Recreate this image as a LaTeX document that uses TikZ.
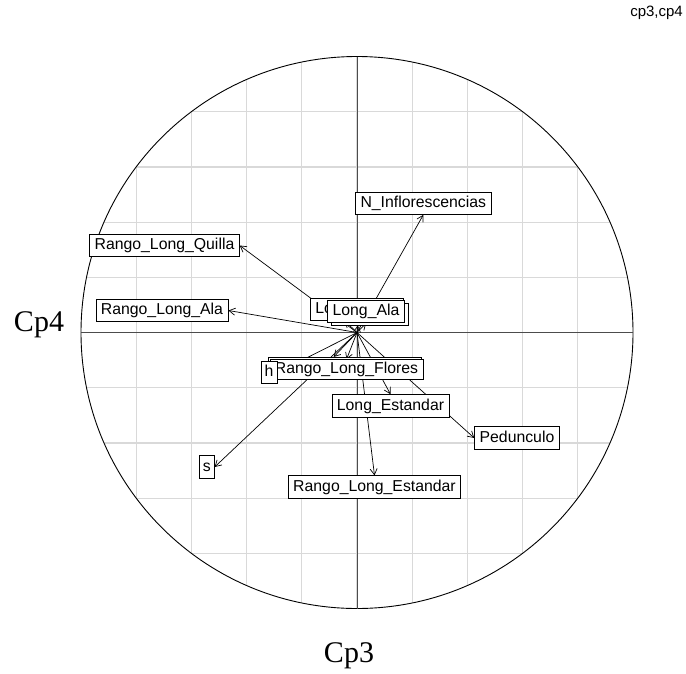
\documentclass[tikz,border=0pt]{standalone}
\usepackage{fontspec}
\setmainfont{Liberation Sans}
\newfontfamily\axisfont{Liberation Serif}
\usetikzlibrary{arrows.meta,calc}
\pgfdeclarelayer{gridlayer}
\pgfdeclarelayer{veclayer}
\pgfsetlayers{gridlayer,veclayer,main}
\begin{document}
\begin{tikzpicture}[x=1pt,y=-1pt,
  lbl/.style={draw=black, fill=white, line width=0.8pt, inner xsep=5pt, inner ysep=3.4pt,
    text height=12pt, text depth=3.5pt, font=\fontsize{15.8}{18}\selectfont},
  emptybox/.style={draw=black, fill=white, line width=0.8pt, inner sep=0pt},
  vec/.style={draw=black, line width=0.7pt, -{Straight Barb[length=6pt,width=7pt]}},
  gridline/.style={draw=black!15, line width=1.2pt},
  axisline/.style={draw=black!70, line width=0.9pt},
  axislabel/.style={font=\axisfont\fontsize{30}{34}\selectfont, inner sep=0pt}]
\useasboundingbox (0,0) rectangle (686,673);

% centre of the correlation circle
\coordinate (O) at (357,332.5);

% variable labels
\node[lbl] (rlq) at (164.5,245.5) {Rango\_Long\_Quilla};
\node[lbl] (rla) at (162,310.5) {Rango\_Long\_Ala};
\node[lbl] (ninf) at (423.3,203.3) {N\_Inflorescencias};
\node[lbl, anchor=west, text width=83pt, align=left] (lf) at (310,309.2) {Lo};
\node[emptybox, minimum width=77pt, minimum height=22pt] (tb) at (369.5,314) {};
\node[lbl] (lala) at (366,311.7) {Long\_Ala};
\node[emptybox, minimum width=153pt, minimum height=20pt] (rlfb) at (344.5,367.3) {};
\node[lbl, inner ysep=2.2pt] (rlf) at (346.5,369.7) {Rango\_Long\_Flores};
\node[lbl, inner xsep=3.6pt] (h) at (269,372.7) {h};
\node[lbl] (lest) at (390.5,405.8) {Long\_Estandar};
\node[lbl] (ped) at (517,438) {Pedunculo};
\node[lbl, inner xsep=3.6pt] (s) at (206.7,467) {s};
\node[lbl] (rle) at (374.5,487) {Rango\_Long\_Estandar};

% corner title and axis names
\node[font=\fontsize{15}{17}\selectfont, anchor=east, inner sep=0pt] (title) at (683,13) {cp3,cp4};
\node[axislabel, anchor=base] (cp4) at (39,331.5) {Cp4};
\node[axislabel, anchor=base] (cp3) at (349,662) {Cp3};

% grid, circle and axes
\begin{pgfonlayer}{gridlayer}
  \begin{scope}
    \clip (O) circle[radius=276pt];
    \foreach \k in {-4,...,4} {
      \draw[gridline] ({357+55.2*\k},50) -- ({357+55.2*\k},615);
      \draw[gridline] (75,{332.5+55.2*\k}) -- (640,{332.5+55.2*\k});
    }
  \end{scope}
  \draw[black, line width=0.9pt] (O) circle[radius=276pt];
  \draw[axisline] (81,332.5) -- (633,332.5);
  \draw[axisline] (357,56.5) -- (357,608.5);
\end{pgfonlayer}

% loading vectors
\begin{pgfonlayer}{veclayer}
  \draw[vec] (O) -- (rlq.east);
  \draw[vec] (O) -- (rla.east);
  \draw[vec] (O) -- (ninf.south);
  \draw[vec] (O) -- ($(lf.south west)!0.37!(lf.south east)$);
  \draw[vec] (O) -- ($(tb.south west)!0.35!(tb.south east)$);
  \draw[vec] (O) -- (lala.south);
  \draw[vec] (O) -- ($(rlfb.north west)!0.43!(rlfb.north east)$);
  \draw[vec] (O) -- (rlf.north);
  \draw[vec] (O) -- (h.east);
  \draw[vec] (O) -- (s.east);
  \draw[vec] (O) -- (lest.north);
  \draw[vec] (O) -- (ped.west);
  \draw[vec] (O) -- (rle.north);
\end{pgfonlayer}
\end{tikzpicture}
\end{document}
